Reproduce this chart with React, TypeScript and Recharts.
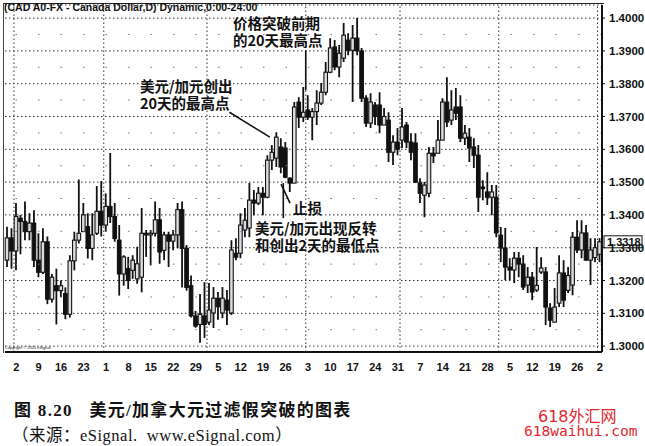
import { ComposedChart, Bar, XAxis, YAxis, CartesianGrid, ReferenceLine } from "recharts";

// USD/CAD daily bars, 29 Jan 2004 - 2 Aug 2004
const opens = [
  1.3262, 1.3330, 1.3290, 1.3390, 1.3380, 1.3349, 1.3375, 1.3262, 1.3225, 1.3318,
  1.3143, 1.3184, 1.3169, 1.3160, 1.3097, 1.3260, 1.3323, 1.3349, 1.3364, 1.3298,
  1.3344, 1.3411, 1.3369, 1.3426, 1.3395, 1.3323, 1.3220, 1.3236, 1.3231, 1.3205,
  1.3210, 1.3344, 1.3339, 1.3344, 1.3385, 1.3292, 1.3339, 1.3320, 1.3339, 1.3416,
  1.3298, 1.3184, 1.3092, 1.3066, 1.3092, 1.3073, 1.3101, 1.3146, 1.3101, 1.3140,
  1.3101, 1.3283, 1.3283, 1.3354, 1.3360, 1.3445, 1.3436, 1.3466, 1.3454, 1.3567,
  1.3573, 1.3607, 1.3604, 1.3512, 1.3497, 1.3744, 1.3698, 1.3720, 1.3698, 1.3715,
  1.3741, 1.3774, 1.3835, 1.3912, 1.3851, 1.3878, 1.3933, 1.3902, 1.3939, 1.3900,
  1.3756, 1.3680, 1.3735, 1.3735, 1.3674, 1.3689, 1.3591, 1.3622, 1.3628, 1.3674,
  1.3622, 1.3619, 1.3497, 1.3460, 1.3466, 1.3588, 1.3588, 1.3628, 1.3744, 1.3689,
  1.3729, 1.3729, 1.3634, 1.3637, 1.3607, 1.3582, 1.3485, 1.3470, 1.3454, 1.3454,
  1.3338, 1.3299, 1.3241, 1.3232, 1.3268, 1.3250, 1.3186, 1.3210, 1.3171, 1.3226,
  1.3226, 1.3116, 1.3073, 1.3131, 1.3223, 1.3170, 1.3186, 1.3332, 1.3293, 1.3345,
  1.3262, 1.3270, 1.3280,
];
const highs = [
  1.3364, 1.3359, 1.3436, 1.3400, 1.3441, 1.3405, 1.3414, 1.3344, 1.3359, 1.3334,
  1.3220, 1.3236, 1.3200, 1.3179, 1.3277, 1.3349, 1.3508, 1.3436, 1.3405, 1.3405,
  1.3488, 1.3503, 1.3465, 1.3589, 1.3436, 1.3369, 1.3277, 1.3272, 1.3277, 1.3303,
  1.3421, 1.3354, 1.3354, 1.3441, 1.3421, 1.3349, 1.3349, 1.3354, 1.3436, 1.3441,
  1.3308, 1.3215, 1.3107, 1.3159, 1.3195, 1.3192, 1.3180, 1.3165, 1.3180, 1.3171,
  1.3323, 1.3329, 1.3405, 1.3421, 1.3497, 1.3476, 1.3485, 1.3485, 1.3582, 1.3613,
  1.3652, 1.3634, 1.3622, 1.3515, 1.3744, 1.3759, 1.3790, 1.3765, 1.3726, 1.3780,
  1.3802, 1.3866, 1.3939, 1.3933, 1.3918, 1.3985, 1.3954, 1.3979, 1.4000, 1.3909,
  1.3765, 1.3771, 1.3744, 1.3774, 1.3726, 1.3713, 1.3643, 1.3665, 1.3726, 1.3683,
  1.3649, 1.3649, 1.3512, 1.3500, 1.3607, 1.3607, 1.3689, 1.3756, 1.3820, 1.3780,
  1.3787, 1.3765, 1.3674, 1.3665, 1.3634, 1.3613, 1.3506, 1.3530, 1.3491, 1.3491,
  1.3363, 1.3360, 1.3268, 1.3287, 1.3287, 1.3277, 1.3241, 1.3226, 1.3302, 1.3271,
  1.3241, 1.3131, 1.3177, 1.3277, 1.3262, 1.3241, 1.3348, 1.3384, 1.3384, 1.3369,
  1.3329, 1.3329, 1.3329,
];
const lows = [
  1.3241, 1.3236, 1.3231, 1.3280, 1.3323, 1.3323, 1.3241, 1.3210, 1.3220, 1.3128,
  1.3133, 1.3066, 1.3149, 1.3082, 1.3087, 1.3231, 1.3313, 1.3349, 1.3267, 1.3262,
  1.3339, 1.3334, 1.3349, 1.3375, 1.3318, 1.3154, 1.3184, 1.3174, 1.3205, 1.3190,
  1.3164, 1.3272, 1.3246, 1.3334, 1.3251, 1.3262, 1.3241, 1.3292, 1.3298, 1.3179,
  1.3169, 1.3087, 1.3056, 1.3010, 1.3025, 1.3064, 1.3055, 1.3080, 1.3085, 1.3064,
  1.3095, 1.3262, 1.3268, 1.3332, 1.3332, 1.3399, 1.3430, 1.3399, 1.3451, 1.3537,
  1.3546, 1.3527, 1.3512, 1.3470, 1.3497, 1.3665, 1.3683, 1.3689, 1.3628, 1.3674,
  1.3735, 1.3765, 1.3832, 1.3841, 1.3820, 1.3866, 1.3887, 1.3744, 1.3887, 1.3744,
  1.3668, 1.3665, 1.3674, 1.3649, 1.3674, 1.3561, 1.3552, 1.3582, 1.3604, 1.3604,
  1.3567, 1.3497, 1.3436, 1.3393, 1.3454, 1.3558, 1.3588, 1.3628, 1.3668, 1.3674,
  1.3689, 1.3622, 1.3613, 1.3561, 1.3543, 1.3409, 1.3445, 1.3430, 1.3399, 1.3332,
  1.3256, 1.3201, 1.3201, 1.3192, 1.3210, 1.3171, 1.3162, 1.3140, 1.3165, 1.3220,
  1.3064, 1.3058, 1.3073, 1.3119, 1.3119, 1.3162, 1.3155, 1.3284, 1.3268, 1.3262,
  1.3186, 1.3256, 1.3256,
];
const closes = [
  1.3330, 1.3290, 1.3395, 1.3380, 1.3349, 1.3375, 1.3262, 1.3225, 1.3318, 1.3143,
  1.3210, 1.3169, 1.3184, 1.3097, 1.3260, 1.3323, 1.3344, 1.3400, 1.3298, 1.3339,
  1.3411, 1.3369, 1.3426, 1.3395, 1.3328, 1.3220, 1.3272, 1.3200, 1.3262, 1.3251,
  1.3344, 1.3339, 1.3344, 1.3385, 1.3287, 1.3339, 1.3320, 1.3339, 1.3416, 1.3298,
  1.3179, 1.3092, 1.3061, 1.3097, 1.3066, 1.3110, 1.3146, 1.3120, 1.3146, 1.3110,
  1.3293, 1.3271, 1.3369, 1.3384, 1.3445, 1.3436, 1.3466, 1.3454, 1.3567, 1.3591,
  1.3637, 1.3546, 1.3515, 1.3497, 1.3729, 1.3698, 1.3713, 1.3698, 1.3715, 1.3741,
  1.3774, 1.3835, 1.3909, 1.3851, 1.3893, 1.3948, 1.3902, 1.3939, 1.3900, 1.3756,
  1.3680, 1.3744, 1.3700, 1.3674, 1.3700, 1.3591, 1.3622, 1.3600, 1.3668, 1.3622,
  1.3591, 1.3500, 1.3466, 1.3491, 1.3588, 1.3580, 1.3628, 1.3744, 1.3683, 1.3720,
  1.3710, 1.3634, 1.3649, 1.3604, 1.3582, 1.3454, 1.3480, 1.3454, 1.3470, 1.3345,
  1.3299, 1.3241, 1.3232, 1.3268, 1.3250, 1.3180, 1.3210, 1.3165, 1.3185, 1.3238,
  1.3119, 1.3079, 1.3119, 1.3223, 1.3140, 1.3215, 1.3332, 1.3293, 1.3345, 1.3262,
  1.3293, 1.3300, 1.3318,
];

// Mondays that carry a day label on the time axis
const tickDates = [
  "2004-02-02", "2004-02-09", "2004-02-16", "2004-02-23",
  "2004-03-01", "2004-03-08", "2004-03-15", "2004-03-22", "2004-03-29",
  "2004-04-05", "2004-04-12", "2004-04-19", "2004-04-26",
  "2004-05-03", "2004-05-10", "2004-05-17", "2004-05-24", "2004-05-31",
  "2004-06-07", "2004-06-14", "2004-06-21", "2004-06-28",
  "2004-07-05", "2004-07-12", "2004-07-19", "2004-07-26",
  "2004-08-02",
];
// first trading day of each month -> dotted vertical divider
const monthStarts = ["2004-02-02", "2004-03-01", "2004-04-01", "2004-05-03", "2004-06-01", "2004-07-01", "2004-08-02"];
const priceTicks = [1.3, 1.31, 1.32, 1.33, 1.34, 1.35, 1.36, 1.37, 1.38, 1.39, 1.4];
const halfLevels = [1.305, 1.315, 1.325, 1.335, 1.345, 1.355, 1.365, 1.375, 1.385, 1.395];

// weekday calendar starting 29 Jan 2004
const dates: string[] = [];
for (let t = Date.UTC(2004, 0, 29); dates.length < opens.length; t += 86400000) {
  const d = new Date(t);
  const wd = d.getUTCDay();
  if (wd !== 0 && wd !== 6) dates.push(d.toISOString().slice(0, 10));
}

const data = dates.map((date, i) => ({
  date,
  open: opens[i],
  high: highs[i],
  low: lows[i],
  close: closes[i],
}));

const ink = "#111";
const axisFont = '"Liberation Sans", Arial, sans-serif';
const cjk = '"Noto Sans CJK SC", sans-serif';
const serif = '"Liberation Serif", "Noto Sans CJK SC", serif';

function Candle(props: any) {
  const { x, y, width, height, payload } = props;
  const { open, high, low, close } = payload;
  const top = Math.min(y, y + height);
  const h = Math.abs(height);
  const k = high === low ? 0 : h / (high - low);
  const yO = top + (high - open) * k;
  const yC = top + (high - close) * k;
  const cx = x + width / 2;
  const bw = 3.6;
  const bt = Math.min(yO, yC);
  const bh = Math.max(Math.abs(yO - yC), 1.2);
  return (
    <g>
      <line x1={cx} x2={cx} y1={top} y2={top + h} stroke={ink} strokeWidth={1.8} />
      <rect x={cx - bw / 2} y={bt} width={bw} height={bh} fill={close >= open ? "#ddd" : ink} stroke={ink} strokeWidth={1.1} />
    </g>
  );
}

function DayTick(props: any) {
  const { x, y, payload } = props;
  if (!tickDates.includes(payload.value)) return null;
  return (
    <text x={x} y={y + 11} textAnchor="middle" fontSize={11} fontWeight="bold" fontFamily={axisFont} fill={ink}>
      {String(Number(payload.value.slice(8, 10)))}
    </text>
  );
}

function PriceTick(props: any) {
  const { x, y, payload } = props;
  return (
    <text x={x + 2} y={y + 4} fontSize={11.5} fontWeight="bold" fontFamily={axisFont} fill={ink}>
      {payload.value.toFixed(4)}
    </text>
  );
}

function LastPrice(props: any) {
  const vb = props.viewBox;
  const x = vb.x + vb.width + 2;
  return (
    <g>
      <rect x={x} y={vb.y - 6} width={38} height={12} fill="#fff" stroke={ink} strokeWidth={1} />
      <text x={x + 3} y={vb.y + 4} fontSize={11} fontWeight="bold" fontFamily={axisFont} fill={ink}>
        {closes[closes.length - 1].toFixed(4)}
      </text>
    </g>
  );
}

const note: any = {
  position: "absolute",
  fontFamily: cjk,
  fontWeight: 700,
  fontSize: 14.5,
  lineHeight: "17px",
  color: ink,
  whiteSpace: "nowrap",
};

export default function App() {
  return (
    <div style={{ position: "relative", width: 645, height: 446, background: "#fff", overflow: "hidden" }}>
      <style>{"body{margin:0}"}</style>
      <div style={{ position: "absolute", left: 3, top: 3, width: 600, height: 349, borderTop: "1.5px solid #222", borderLeft: "1px solid #444" }} />
      <div style={{ position: "absolute", left: 0, top: 0 }}>
        <ComposedChart width={645} height={372} data={data} margin={{ top: 5, right: 3, bottom: 2, left: 5 }} barCategoryGap={0}>
          <CartesianGrid vertical={false} stroke="#333" strokeDasharray="1.5 2.5" />
          {halfLevels.map((v) => (
            <ReferenceLine key={v} y={v} stroke="#777" strokeDasharray="1.5 21" />
          ))}
          {monthStarts.map((d) => (
            <ReferenceLine key={d} x={d} position="start" stroke="#333" strokeDasharray="1.5 2.5" />
          ))}
          <XAxis dataKey="date" interval={0} tick={<DayTick />} tickLine={false} axisLine={{ stroke: ink, strokeWidth: 2 }} height={18} />
          <YAxis
            orientation="right"
            domain={[1.2982, 1.404]}
            ticks={priceTicks}
            allowDataOverflow
            tick={<PriceTick />}
            tickSize={3}
            tickLine={{ stroke: ink }}
            axisLine={{ stroke: ink, strokeWidth: 2 }}
            width={40}
          />
          <Bar dataKey={(d: any) => [d.low, d.high]} shape={<Candle />} barSize={4} isAnimationActive={false} />
          <ReferenceLine segment={[{ x: "2004-05-03", y: 1.3902 }, { x: "2004-05-03", y: 1.378 }]} position="start" stroke={ink} strokeWidth={1.6} />
          <ReferenceLine segment={[{ x: "2004-04-08", y: 1.3713 }, { x: "2004-04-21", y: 1.3637 }]} position="start" stroke={ink} strokeWidth={1.6} />
          <ReferenceLine segment={[{ x: "2004-04-26", y: 1.3497 }, { x: "2004-04-26", y: 1.339 }]} position="start" stroke={ink} strokeWidth={1.6} />
          <ReferenceLine segment={[{ x: "2004-04-23", y: 1.3494 }, { x: "2004-04-27", y: 1.3436 }]} stroke={ink} strokeWidth={1.6} />
          <ReferenceLine y={closes[closes.length - 1]} stroke="none" label={<LastPrice />} />
        </ComposedChart>
      </div>

      <div style={{ position: "absolute", left: 4, top: 1, fontFamily: axisFont, fontWeight: 700, fontSize: 10.5, color: ink, whiteSpace: "nowrap" }}>
        (CAD A0-FX - Canada Dollar,D) Dynamic,0:00-24:00
      </div>
      <div style={{ position: "absolute", left: 5, top: 345, fontFamily: axisFont, fontSize: 4, color: ink }}>Copyright © 2005 eSignal</div>

      <div style={{ ...note, left: 233, top: 14 }}>价格突破前期<br />的20天最高点</div>
      <div style={{ ...note, left: 140, top: 77 }}>美元/加元创出<br />20天的最高点</div>
      <div style={{ ...note, left: 293, top: 199 }}>止损</div>
      <div style={{ ...note, left: 255, top: 219 }}>美元/加元出现反转<br />和创出2天的最低点</div>

      <div style={{ position: "absolute", left: 14, top: 396, fontFamily: serif, fontWeight: 700, fontSize: 17, letterSpacing: 1.3, color: ink, whiteSpace: "nowrap" }}>
        图 8.20 &nbsp;&nbsp;美元/加拿大元过滤假突破的图表
      </div>
      <div style={{ position: "absolute", left: 12, top: 422, fontFamily: serif, fontSize: 16.5, letterSpacing: 0.5, color: ink, whiteSpace: "nowrap" }}>
        （来源：eSignal.&nbsp; www.eSignal.com）
      </div>
      <div style={{ position: "absolute", left: 538, top: 403, fontFamily: '"DejaVu Sans", "Noto Sans CJK SC", sans-serif', fontSize: 16, color: "#e3262d", whiteSpace: "nowrap" }}>
        618外汇网
      </div>
      <div style={{ position: "absolute", left: 524, top: 423, fontFamily: '"DejaVu Sans Mono", monospace', fontSize: 14.5, color: "#e3262d", whiteSpace: "nowrap" }}>
        618waihui.com
      </div>
    </div>
  );
}
